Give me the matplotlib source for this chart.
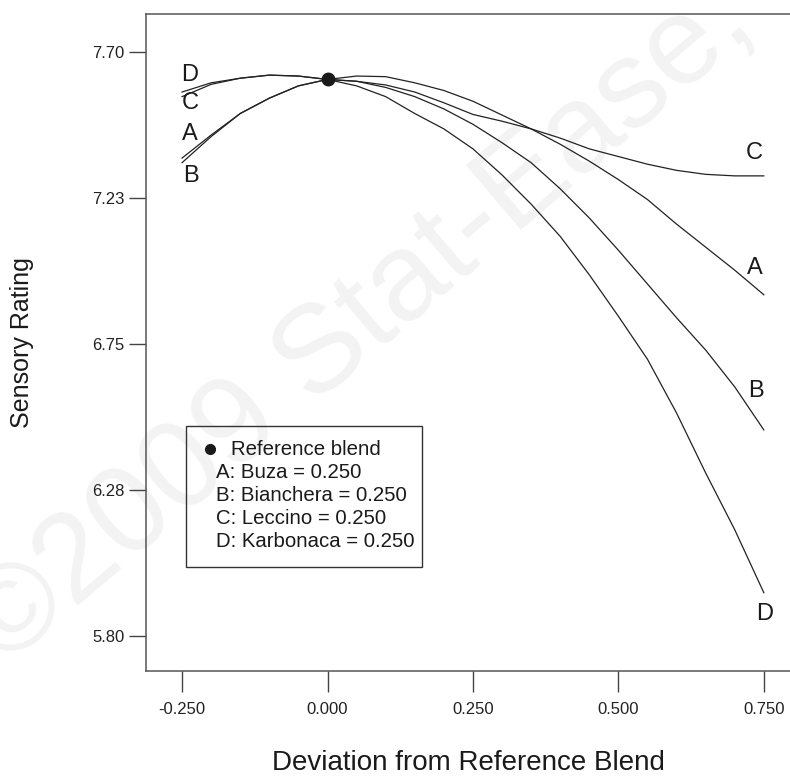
import matplotlib
matplotlib.use("Agg")
import matplotlib.pyplot as plt
from matplotlib.patches import Rectangle

plt.rcParams['font.family'] = ['Liberation Sans', 'DejaVu Sans']

# deviation from reference blend
dev = [-0.25, -0.20, -0.15, -0.10, -0.05, 0.00, 0.05, 0.10, 0.15, 0.20, 0.25,
       0.30, 0.35, 0.40, 0.45, 0.50, 0.55, 0.60, 0.65, 0.70, 0.75]

# sensory rating traces
trace_a = [7.355, 7.43, 7.50, 7.55, 7.59, 7.611, 7.622, 7.62, 7.60, 7.575, 7.54,
           7.495, 7.45, 7.40, 7.345, 7.285, 7.22, 7.14, 7.065, 6.99, 6.91]
trace_b = [7.34, 7.425, 7.50, 7.55, 7.59, 7.611, 7.605, 7.585, 7.555, 7.515, 7.465,
           7.405, 7.34, 7.255, 7.16, 7.055, 6.945, 6.835, 6.73, 6.61, 6.47]
trace_c = [7.555, 7.595, 7.615, 7.625, 7.622, 7.611, 7.605, 7.593, 7.57, 7.535, 7.497,
           7.475, 7.45, 7.42, 7.385, 7.36, 7.335, 7.315, 7.302, 7.297, 7.297]
trace_d = [7.57, 7.60, 7.615, 7.625, 7.622, 7.611, 7.59, 7.555, 7.50, 7.45, 7.385,
           7.30, 7.205, 7.10, 6.975, 6.84, 6.70, 6.525, 6.33, 6.145, 5.94]

ref_x = 0.0
ref_y = 7.611

yticks = [5.80, 6.275, 6.75, 7.225, 7.70]
ytick_labels = ['5.80', '6.28', '6.75', '7.23', '7.70']
xticks = [-0.25, 0.0, 0.25, 0.5, 0.75]
xtick_labels = ['-0.250', '0.000', '0.250', '0.500', '0.750']

legend_lines = ['A: Buza = 0.250', 'B: Bianchera = 0.250',
                'C: Leccino = 0.250', 'D: Karbonaca = 0.250']

fig = plt.figure(figsize=(7.9, 7.78), dpi=100)

# faint watermark behind everything
fig.text(0.004, 0.14, '\u00a92009 Stat-Ease, Inc.', fontsize=90, color='#f3f3f3',
         rotation=40.3, rotation_mode='anchor', ha='left', va='baseline', zorder=-1)

ax = fig.add_axes([0.1848, 0.1375, 0.8152, 0.8445])
ax.patch.set_alpha(0)

for ys in (trace_a, trace_b, trace_c, trace_d):
    ax.plot(dev, ys, color='#222222', lw=0.9)
ax.plot([ref_x], [ref_y], 'o', color='#1a1a1a', ms=9, zorder=5)

# curve letters
lbl = dict(fontsize=17, color='#1a1a1a', ha='center', va='center')
ax.text(-0.237, 7.625, 'D', **lbl)
ax.text(-0.236, 7.534, 'C', **lbl)
ax.text(-0.236, 7.433, 'A', **lbl)
ax.text(-0.235, 7.296, 'B', **lbl)
ax.text(0.733, 7.371, 'C', **lbl)
ax.text(0.734, 6.997, 'A', **lbl)
ax.text(0.736, 6.597, 'B', **lbl)
ax.text(0.752, 5.871, 'D', **lbl)

ax.set_xlim(-0.312, 0.795)
ax.set_ylim(5.685, 7.824)
ax.set_xticks(xticks)
ax.set_xticklabels(xtick_labels)
ax.set_yticks(yticks)
ax.set_yticklabels(ytick_labels)
ax.tick_params(axis='y', length=12, width=1.0, pad=3.5, labelsize=12,
               color='#444444', labelcolor='#222222')
ax.tick_params(axis='x', length=15, width=1.0, pad=7, labelsize=12,
               color='#444444', labelcolor='#222222')
for s in ('left', 'bottom', 'top'):
    ax.spines[s].set_color('#555555')
    ax.spines[s].set_linewidth(1.1)
ax.spines['right'].set_visible(False)

ax.set_xlabel('Deviation from Reference Blend', fontsize=20, color='#1a1a1a', labelpad=24)
ax.set_ylabel('Sensory Rating', fontsize=18, color='#1a1a1a', labelpad=42)

# legend box
ax.add_patch(Rectangle((0.0621, 0.1583), 0.3665, 0.2146, transform=ax.transAxes,
                       fill=False, ec='#333333', lw=1.0, zorder=6))
ax.plot([0.0994], [0.3379], 'o', color='#1a1a1a', ms=7, transform=ax.transAxes,
        zorder=7, clip_on=False)
ax.text(0.132, 0.3379, 'Reference blend', fontsize=14.7, color='#1a1a1a',
        transform=ax.transAxes, va='center', ha='left')
for i, t in enumerate(legend_lines):
    ax.text(0.1087, 0.3029 - i * 0.0355, t, fontsize=14.7, color='#1a1a1a',
            transform=ax.transAxes, va='center', ha='left')

fig.savefig('out.png', dpi=100)
